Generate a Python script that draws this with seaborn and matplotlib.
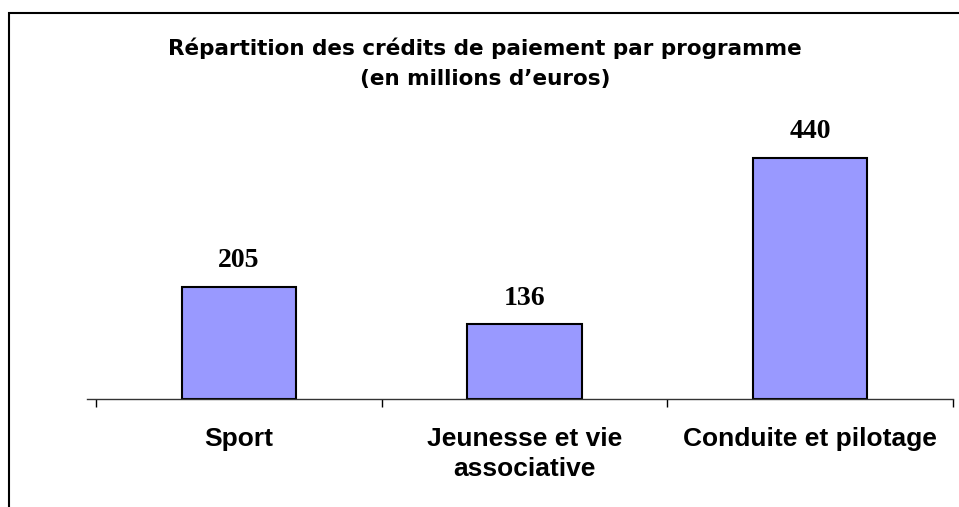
import matplotlib
matplotlib.use('Agg')
import matplotlib.pyplot as plt
import seaborn as sns
import pandas as pd
from matplotlib.patches import Rectangle

# Données du graphique
programmes = ['Sport', 'Jeunesse et vie\nassociative', 'Conduite et pilotage']
credits = [205, 136, 440]
titre = "Répartition des crédits de paiement par programme\n(en millions d’euros)"

sns.set_theme(style='white')
plt.rcParams['font.family'] = ['Liberation Sans', 'DejaVu Sans']
plt.rcParams['text.color'] = 'black'
plt.rcParams['xtick.color'] = 'black'
plt.rcParams['xtick.labelcolor'] = 'black'

fig = plt.figure(figsize=(9.59, 5.07), dpi=100)
ax = fig.add_axes([96 / 959, 1 - 399 / 507, (953 - 96) / 959, 274 / 507])

df = pd.DataFrame({'programme': programmes, 'credits': credits})
sns.barplot(data=df, x='programme', y='credits', color='#9999FF', saturation=1,
            edgecolor='black', linewidth=1.5, width=0.4, ax=ax)

ax.set_ylim(0, 500)
ax.set_xlim(-0.5, 2.5)
ax.set_yticks([])
ax.set_xlabel('')
ax.set_ylabel('')
for s in ['left', 'top', 'right']:
    ax.spines[s].set_visible(False)
ax.spines['bottom'].set_color('#333333')
ax.spines['bottom'].set_linewidth(1)
ax.spines['bottom'].set_bounds(-0.53, 2.5)

# graduations entre les catégories, libellés au centre
ax.set_xticks([-0.5, 0.5, 1.5, 2.5])
ax.set_xticklabels([])
ax.set_xticks([0, 1, 2], minor=True)
ax.set_xticklabels(programmes, minor=True, fontsize=19, fontweight='bold',
                   color='black', linespacing=1.35)
ax.tick_params(axis='x', which='major', bottom=True, length=6, width=1, color='black', direction='out')
ax.tick_params(axis='x', which='minor', bottom=True, length=0, pad=20)

ax.bar_label(ax.containers[0], fmt='%d', padding=10, fontsize=20, fontweight='bold',
             family='Liberation Serif', color='black')

fig.text(485 / 959, 1 - 38 / 507, titre, ha='center', va='top', fontsize=15.5,
         fontweight='bold', family='DejaVu Sans', linespacing=1.62, color='black')

# cadre autour du graphique
fig.patches.append(Rectangle((9 / 959, -0.1), 1.2, 1.1 - 13 / 507, transform=fig.transFigure,
                             fill=False, edgecolor='black', linewidth=1.5))

fig.savefig('out.png', dpi=100)
